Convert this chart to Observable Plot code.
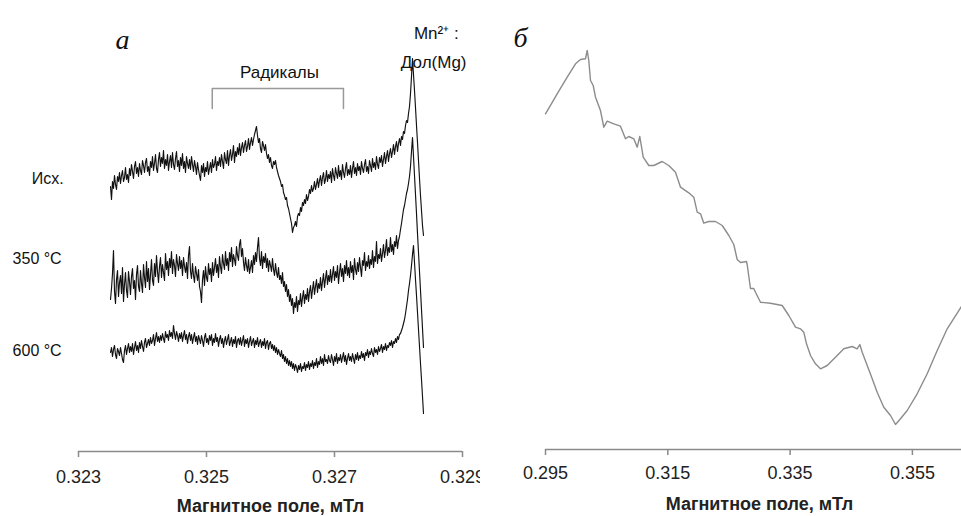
<!DOCTYPE html>
<html>
<head>
<meta charset="utf-8">
<script src="https://cdn.jsdelivr.net/npm/d3@7"></script>
<script src="https://cdn.jsdelivr.net/npm/@observablehq/plot@0.6"></script>
<style>
  html, body { margin: 0; padding: 0; background: #fff; }
  #wrap { display: flex; width: 961px; height: 516px; overflow: hidden; }
  svg { display: block; }
</style>
</head>
<body>
<div id="wrap"><div id="a"></div><div id="b"></div></div>
<script>
// ---------- Panel a: EPR spectra (field in mT, intensity in arbitrary units) ----------
const fieldStartA = 0.3235;
const fieldStepA = 0.000015625;
const seriesNames = ["Исх.", "350 °C", "600 °C"];
const ishodnyi = [
  265,252,270,263,276,267,262,275,270,279, 268,276,281,270,274,284,272,277,269,283,
  276,287,280,273,285,290,278,284,275,288, 281,277,291,286,279,289,293,280,285,276,
  290,284,295,281,288,297,283,279,292,299, 285,294,288,301,283,292,286,297,281,290,
  296,284,299,287,282,293,300,285,291,280, 294,286,298,283,290,279,295,288,283,292,
  282,295,287,280,291,285,277,289,282,276, 271,286,279,288,275,284,280,290,277,283,
  289,279,292,284,287,295,281,290,286,294, 285,297,290,283,299,292,288,301,286,296,
  302,291,297,306,289,300,295,304,297,308, 296,304,309,299,306,311,300,305,313,302,
  309,314,306,312,317,321,325,316,309,313, 303,299,310,306,301,307,298,293,297,289,
  294,286,283,290,287,291,284,280,276,273, 270,265,267,259,256,252,254,246,243,238,
  233,228,219,224,226,230,225,235,238,236, 244,240,249,246,252,248,257,251,255,262,
  258,266,260,263,270,262,267,273,264,271, 276,266,274,279,268,272,281,270,277,273,
  280,269,283,276,271,284,278,273,286,275, 281,272,287,279,274,283,289,276,282,277,
  286,274,283,290,278,284,276,288,281,285, 277,290,283,279,287,292,280,285,278,291,
  286,280,293,284,289,282,295,287,283,294, 289,296,285,292,299,288,295,301,290,298,
  303,294,300,307,297,305,310,300,308,313, 306,315,312,320,318,326,331,329,338,345,
  358,375,393,377,361,344,326,309,291,273, 256,241,226,216];
const t350 = [
  152,163,178,201,160,148,172,181,155,169, 176,158,184,150,167,179,161,154,180,170,
  157,175,183,163,171,152,177,186,165,160, 181,168,159,187,174,164,190,170,183,162,
  177,192,171,166,188,175,196,180,169,185, 194,174,187,179,171,198,182,190,176,193,
  184,200,178,192,186,175,197,188,181,195, 183,191,176,194,185,179,189,173,196,205,
  180,173,188,176,169,185,178,171,182,165, 160,149,172,181,166,185,174,170,188,177,
  183,170,189,176,184,193,179,187,174,195, 185,178,197,188,182,200,186,193,181,199,
  190,204,185,197,192,186,205,196,191,207, 212,195,203,189,181,194,186,180,192,178,
  184,191,179,196,187,199,190,204,214,193, 186,200,183,195,189,198,184,193,180,191,
  186,180,193,182,176,188,179,174,184,172, 176,168,179,165,170,160,167,155,162,150,
  157,146,153,138,149,144,155,140,151,147, 158,145,154,161,148,157,152,163,150,160,
  166,153,162,170,157,165,172,159,168,163, 174,161,170,178,164,173,181,167,176,170,
  182,169,177,185,171,180,174,186,168,179, 188,175,183,170,186,178,191,176,184,174,
  190,179,186,172,193,182,177,189,180,194, 184,175,191,186,199,181,190,185,196,183,
  192,187,201,184,195,190,210,188,197,193, 203,190,198,207,194,201,212,196,204,199,
  214,200,207,197,210,205,216,203,211,215, 222,228,235,242,246,252,258,262,268,275,
  285,300,314,295,276,257,238,218,199,180, 161,142,123,104];
const t600 = [
  99,104,95,102,106,97,93,103,100,96, 104,98,92,89,101,106,97,103,108,99,
  105,100,108,97,104,110,101,106,99,109, 103,111,105,100,109,113,104,108,112,106,
  114,108,111,117,106,113,119,110,115,109, 116,111,118,113,109,120,114,117,111,121,
  115,119,113,126,118,112,120,116,110,118, 113,119,110,116,121,112,117,108,115,119,
  111,117,108,114,119,110,115,107,116,112, 108,116,111,105,114,118,109,113,107,116,
  111,117,106,113,109,118,110,114,105,112, 116,108,113,104,111,115,107,112,117,106,
  110,114,105,112,108,115,104,111,113,107, 114,106,111,116,105,112,108,113,104,110,
  115,106,110,113,104,111,107,114,105,109, 112,104,110,106,113,103,109,111,102,108,
  110,103,107,101,106,99,104,97,102,98, 95,101,93,97,90,95,88,93,86,91,
  85,90,83,88,81,87,84,79,86,82, 88,80,85,83,89,81,87,84,90,82,
  88,85,91,83,89,86,93,84,90,87, 95,88,93,86,97,90,92,88,96,91,
  89,97,92,86,95,90,98,88,94,91, 97,89,94,99,90,96,87,93,98,91,
  95,90,98,93,88,97,92,99,91,96, 93,100,94,98,91,99,96,102,94,100,
  97,103,98,95,104,99,102,97,105,100, 103,107,99,105,102,108,101,106,104,109,
  106,111,104,110,108,113,109,115,112,117, 118,121,124,128,132,138,145,152,161,168,
  176,186,197,206,189,172,156,139,122,105, 88,72,55,38];
const seriesValues = [ishodnyi, t350, t600];

const ticksA = [0.323, 0.325, 0.327, 0.329];
const sampleLabels = [
  {text: "Исх.", x: 0.32227, y: 273},
  {text: "350 °C", x: 0.32197, y: 193},
  {text: "600 °C", x: 0.32197, y: 101}
];
const bracketX = [0.32509, 0.32714];
const bracketTop = 363, bracketLeg = 343;
const annotA = [
  {text: "Радикалы", x: 0.32614, y: 379},
  {text: "Mn²⁺ :", x: 0.32859, y: 418},
  {text: "Дол(Mg)", x: 0.32855, y: 389}
];

// ---------- Panel б ----------
const fieldB = [0.2950,0.29691,0.29855,0.29991,0.30072,0.30154,0.30182,0.30208,0.30236,0.3028,
  0.30318,0.30399,0.30453,0.30509,0.30617,0.30726,0.30808,0.30862,0.30944,0.3100,
  0.31042,0.31098,0.31189,0.31271,0.31408,0.31516,0.31626,0.31708,0.31843,0.31925,
  0.31981,0.32035,0.32089,0.3217,0.3228,0.3239,0.32498,0.32579,0.32635,0.32689,
  0.32787,0.32798,0.32852,0.32906,0.32934,0.33016,0.3318,0.33371,0.33479,0.33588,
  0.3367,0.33724,0.33768,0.33834,0.33915,0.33997,0.34107,0.34242,0.34378,0.34515,
  0.34597,0.3464,0.34679,0.34761,0.34843,0.34924,0.35032,0.35142,0.35224,0.35305,
  0.35415,0.35578,0.35742,0.35906,0.36069,0.36303];
const signalB = [335.7,355.7,372.3,385.7,390,390.7,399,389,369,364,
  352.3,339,322.3,328.3,325.7,323.3,310.7,313,310.7,302.3,
  313,292.3,284,284,288,284,277.3,262.3,256.7,252.3,
  237.3,235.7,226.3,228,228,224,214,205,190,187,
  188,185,161,161,157.3,147.3,146.3,144,134,122.3,
  120.7,117.3,105.7,94,85.7,80.7,84,92.3,100.7,103,
  100.7,105,97.3,84,70.7,57.3,42.3,34,25,30.7,
  39,55.7,75.7,99,120.7,143];
const ticksB = [0.295, 0.315, 0.335, 0.355];
const axisTitle = "Магнитное поле, мТл";

// ---------- build ----------
const spectra = [];
seriesValues.forEach((vals, s) => vals.forEach((v, i) =>
  spectra.push({series: seriesNames[s], field: fieldStartA + i * fieldStepA, value: v})));
const bracket = [
  {x: bracketX[0], y: bracketLeg}, {x: bracketX[0], y: bracketTop},
  {x: bracketX[1], y: bracketTop}, {x: bracketX[1], y: bracketLeg}
];
const lineB = fieldB.map((f, i) => ({field: f, value: signalB[i]}));

const font = "Liberation Sans, Arial, sans-serif";
const axisGray = "#8a8a8a";
const fmt = d3.format(".3f");

const plotA = Plot.plot({
  width: 480, height: 516,
  marginLeft: 78, marginRight: 18, marginTop: 0, marginBottom: 65,
  style: {fontFamily: font, background: "#fff", overflow: "visible"},
  x: {domain: [0.323, 0.329]},
  y: {domain: [0, 451], axis: null},
  marks: [
    Plot.ruleY([0], {stroke: axisGray, strokeWidth: 1.5}),
    Plot.axisX({ticks: ticksA, tickFormat: fmt, tickSize: 6, tickPadding: 13,
      stroke: axisGray, strokeWidth: 1.5, fontSize: 18, color: "#222", label: null}),
    Plot.text([axisTitle], {frameAnchor: "bottom", text: d => d, dy: 60, fontSize: 18,
      fontWeight: "bold", fill: "#222"}),
    Plot.line(spectra, {x: "field", y: "value", z: "series", stroke: "#111", strokeWidth: 1.15}),
    Plot.line(bracket, {x: "x", y: "y", stroke: "#999", strokeWidth: 1.5}),
    Plot.text(sampleLabels, {x: "x", y: "y", text: "text", textAnchor: "start", fontSize: 16, fill: "#111"}),
    Plot.text(annotA, {x: "x", y: "y", text: "text", fontSize: 17, fill: "#111"}),
    Plot.text(["а"], {x: [0.32358], y: [411], text: d => d, fontSize: 28, fontStyle: "italic",
      fontFamily: "Liberation Serif, Times New Roman, serif", fill: "#111", textAnchor: "start"})
  ]
});

const plotB = Plot.plot({
  width: 481, height: 516,
  marginLeft: 65, marginRight: 0, marginTop: 0, marginBottom: 67,
  style: {fontFamily: font, background: "#fff", overflow: "visible"},
  x: {domain: [0.295, 0.36303]},
  y: {domain: [0, 449], axis: null},
  marks: [
    Plot.ruleY([0], {stroke: axisGray, strokeWidth: 1.5}),
    Plot.axisX({ticks: ticksB, tickFormat: fmt, tickSize: 6, tickPadding: 11,
      stroke: axisGray, strokeWidth: 1.5, fontSize: 18, color: "#222", label: null}),
    Plot.text([axisTitle], {frameAnchor: "bottom", text: d => d, dx: 6, dy: 60, fontSize: 18,
      fontWeight: "bold", fill: "#222"}),
    Plot.line(lineB, {x: "field", y: "value", stroke: "#8c8c8c", strokeWidth: 1.4}),
    Plot.text(["б"], {x: [0.28977], y: [411], text: d => d, fontSize: 28, fontStyle: "italic",
      fontFamily: "Liberation Serif, Times New Roman, serif", fill: "#111", textAnchor: "start"})
  ]
});

document.getElementById("a").appendChild(plotA);
document.getElementById("b").appendChild(plotB);
</script>
</body>
</html>
